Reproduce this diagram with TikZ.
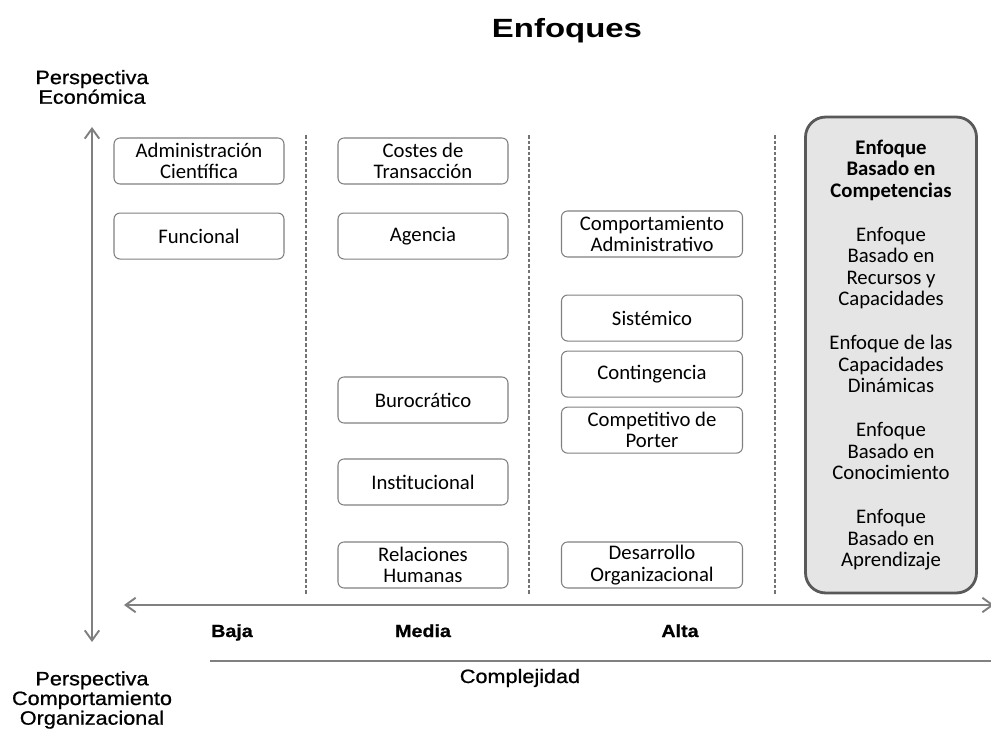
\documentclass[tikz,border=0pt]{standalone}
\usepackage{fontspec}
\setmainfont{Carlito}
\newfontfamily\arialfont[FakeStretch=1.12,FakeBold=0.8]{Liberation Sans}
\newfontfamily\titlefont[FakeStretch=1.25]{Liberation Sans}
\usetikzlibrary{arrows.meta,positioning}
\tikzset{
    enfoque/.style={draw=black!50,line width=0.6pt,rounded corners=1.2mm,minimum width=3.4cm,minimum height=0.92cm,inner sep=0pt,align=center,font=\fontsize{11.8}{12.2}\selectfont},
    ancho/.style={enfoque,minimum width=3.62cm},
    recursos/.style={draw=black!65,fill=black!10,line width=1.6pt,rounded corners=4mm,minimum width=3.42cm,minimum height=9.52cm,inner sep=0pt,align=center,font=\fontsize{11.8}{12.24}\selectfont},
    divisor/.style={black!55,line width=0.8pt,dash pattern=on 2pt off 1.2pt},
    eje/.style={{Straight Barb[length=2mm,width=2.9mm]}-{Straight Barb[length=2mm,width=2.9mm]},black!50,line width=1.1pt},
    etiqueta/.style={align=center,font=\arialfont\fontsize{11}{11.2}\selectfont},
    nivel/.style={font=\arialfont\bfseries\fontsize{10}{11}\selectfont,text height=1.6ex,text depth=0.4ex}
}

\begin{document}
\begin{tikzpicture}[x=0.02cm,y=-0.02cm]
    \useasboundingbox (0,0) rectangle (991,736);

    \node (titulo) at (567,31) {\titlefont\bfseries\fontsize{15}{16}\selectfont Enfoques};
    \node[etiqueta] (economica) at (92,87) {Perspectiva\\Económica};
    \node[etiqueta] (organizacional) at (92,700) {Perspectiva\\Comportamiento\\Organizacional};

    % ejes
    \coordinate (eje arriba) at (92,127);
    \coordinate (eje abajo) at (92,642);
    \coordinate (eje izq) at (124,605);
    \coordinate (eje der) at (994,605);
    \draw[eje] (eje abajo) -- (eje arriba);
    \draw[eje] (eje izq) -- (eje der);

    \coordinate (regla izq) at (210,661);
    \coordinate (regla der) at (991,661);
    \draw[black!50,line width=1.1pt] (regla izq) -- (regla der);

    \node[nivel] (baja) at (232,632) {Baja};
    \node[nivel] (media) at (423,632) {Media};
    \node[nivel] (alta) at (680,632) {Alta};
    \node[etiqueta] (complejidad) at (520,678) {Complejidad};

    % divisiones
    \foreach \x/\nombre in {306/a,529/b,775/c}{
        \coordinate (div \nombre\space arriba) at (\x,135);
        \coordinate (div \nombre\space abajo) at (\x,596);
        \draw[divisor] (div \nombre\space arriba) -- (div \nombre\space abajo);
    }

    % baja
    \node[enfoque] (cientifica) at (199,161) {Administración\\Científica};
    \node[enfoque] (funcional) [below=5.6mm of cientifica] {Funcional};

    % media
    \node[enfoque] (costes) at (423,161) {Costes de\\Transacción};
    \node[enfoque] (agencia) [below=5.6mm of costes] {Agencia};
    \node[enfoque] (burocratico) at (423,400) {Burocrático};
    \node[enfoque] (institucional) at (423,482) {Institucional};
    \node[enfoque] (relaciones) at (423,565) {Relaciones\\Humanas};

    % alta
    \node[ancho] (administrativo) at (652,234) {Comportamiento\\Administrativo};
    \node[ancho] (sistemico) [below=7.4mm of administrativo] {Sistémico};
    \node[ancho] (contingencia) [below=1.8mm of sistemico] {Contingencia};
    \node[ancho] (porter) [below=1.8mm of contingencia] {Competitivo de\\Porter};
    \node[ancho] (desarrollo) at (652,565) {Desarrollo\\Organizacional};

    % recursos y capacidades
    \node[recursos] (competencias) at (891,355) {\textbf{Enfoque}\\\textbf{Basado en}\\\textbf{Competencias}\\[12.8pt]
        Enfoque\\Basado en\\Recursos y\\Capacidades\\[12.8pt]
        Enfoque de las\\Capacidades\\Dinámicas\\[12.8pt]
        Enfoque\\Basado en\\Conocimiento\\[12.8pt]
        Enfoque\\Basado en\\Aprendizaje};
\end{tikzpicture}
\end{document}
